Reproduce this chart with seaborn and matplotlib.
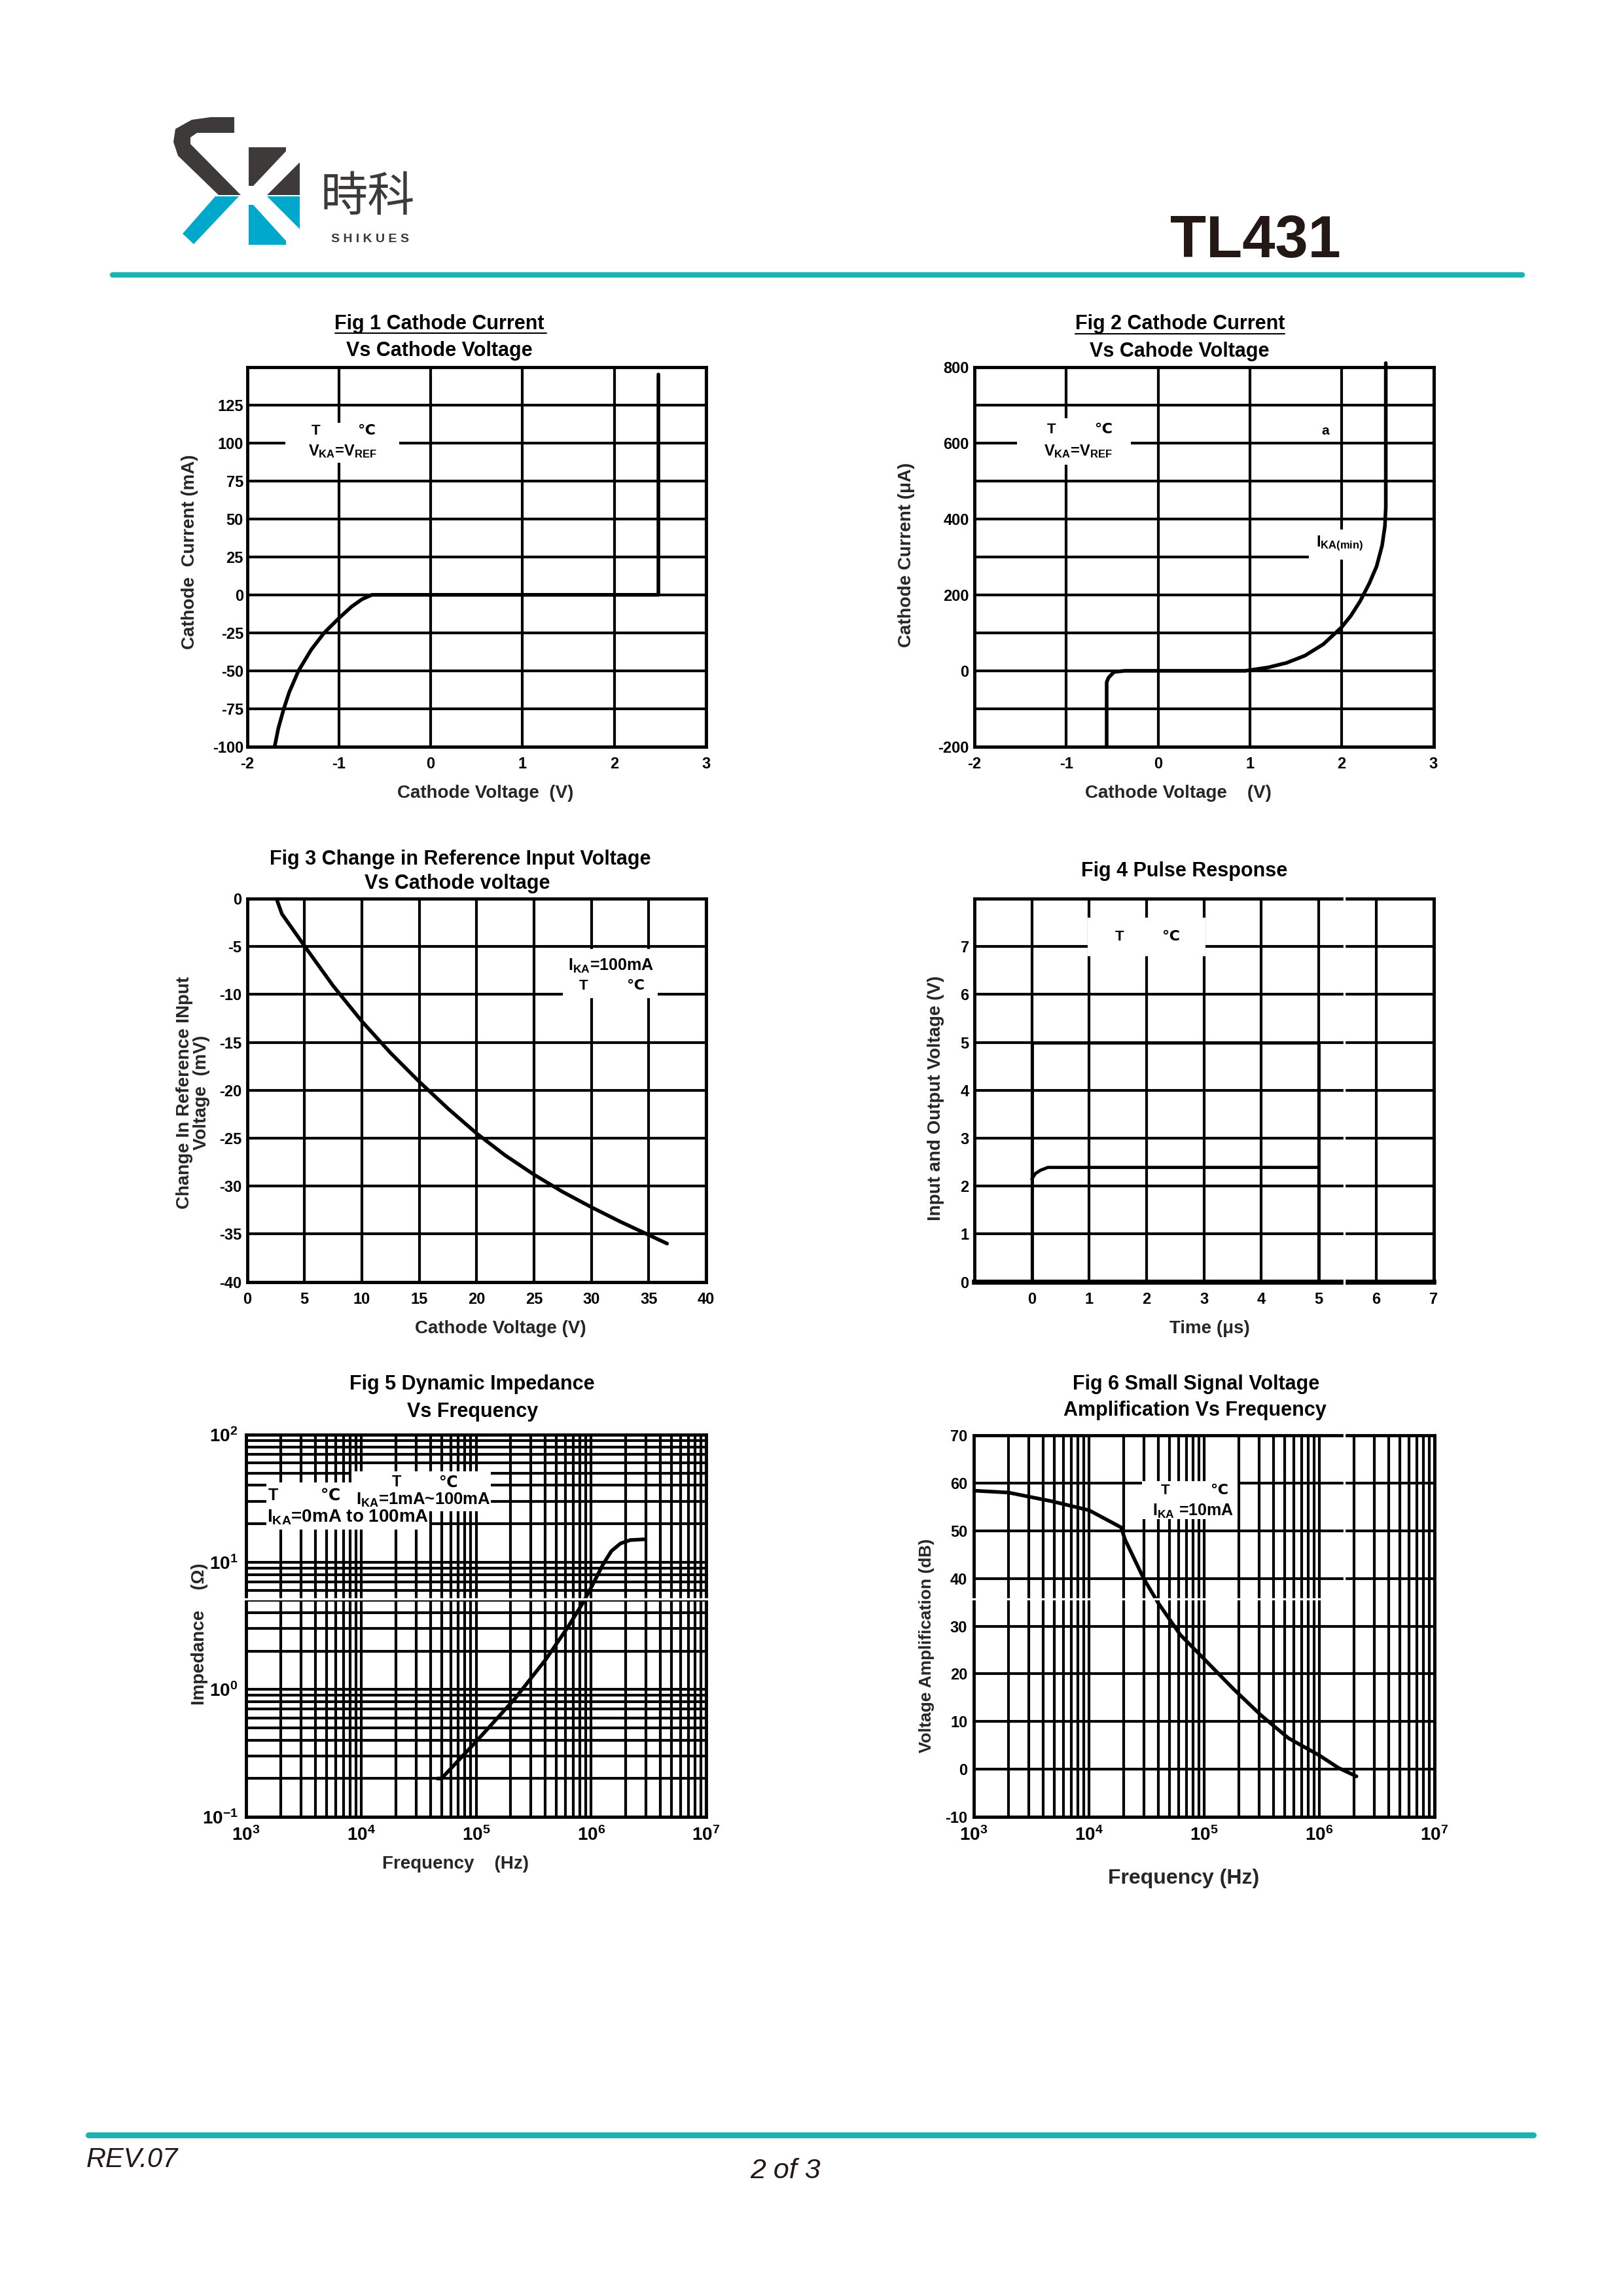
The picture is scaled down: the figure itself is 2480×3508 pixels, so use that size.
import matplotlib
matplotlib.use("Agg")
import matplotlib.pyplot as plt
import seaborn as sns
from matplotlib.patches import Rectangle, Polygon
from matplotlib.lines import Line2D
from matplotlib.ticker import LogLocator, NullFormatter, FixedLocator

# ---------------- DATA ----------------
# Fig 1  Cathode current (mA) vs cathode voltage (V)
fig1_voltage = [-1.70, -1.66, -1.60, -1.54, -1.44, -1.30, -1.16, -1.00, -0.86, -0.75, -0.64, 2.48, 2.48]
fig1_current = [-100, -88, -75, -64, -50, -36, -25, -15.4, -7.7, -3.0, 0, 0, 145]
fig1_xticks = [-2, -1, 0, 1, 2, 3]
fig1_yticks = [-100, -75, -50, -25, 0, 25, 50, 75, 100, 125]

# Fig 2  Cathode current (uA) vs cathode voltage (V)
fig2_voltage = [-0.56, -0.56, -0.54, -0.48, -0.36, 0.95, 1.20, 1.40, 1.60, 1.80, 2.00, 2.10, 2.20, 2.30, 2.38, 2.44, 2.47, 2.48, 2.48]
fig2_current = [-200, -30, -18, -3, 0, 0, 9, 21, 40, 70, 115, 145, 183, 230, 275, 330, 380, 430, 810]
fig2_xticks = [-2, -1, 0, 1, 2, 3]
fig2_yticks = [-200, -100, 0, 100, 200, 300, 400, 500, 600, 700, 800]
fig2_ylabels = ["-200", "", "0", "", "200", "", "400", "", "600", "", "800"]

# Fig 3  Change in reference input voltage (mV) vs cathode voltage (V)
fig3_voltage = [2.56, 3.04, 5.1, 7.5, 10, 12.5, 15, 17.5, 20, 22.5, 25, 27.5, 30, 32.5, 35, 36.6]
fig3_delta = [0, -1.6, -5.1, -9.1, -12.8, -16.1, -19.1, -21.9, -24.5, -26.8, -28.8, -30.6, -32.2, -33.7, -35.1, -36.0]
fig3_xticks = [0, 5, 10, 15, 20, 25, 30, 35, 40]
fig3_yticks = [0, -5, -10, -15, -20, -25, -30, -35, -40]

# Fig 4  Pulse response
fig4_time_in = [-1, 0, 0, 5, 5, 7]
fig4_v_in = [0, 0, 5, 5, 0, 0]
fig4_time_out = [0.0, 0.06, 0.15, 0.28, 5.0]
fig4_v_out = [2.15, 2.26, 2.33, 2.39, 2.39]
fig4_xticks = [0, 1, 2, 3, 4, 5, 6, 7]
fig4_yticks = [0, 1, 2, 3, 4, 5, 6, 7]

# Fig 5  Dynamic impedance (ohm) vs frequency (Hz)
fig5_freq = [4.6e4, 5.0e4, 1.0e5, 2.17e5, 4.05e5, 6.3e5, 8.5e5, 1.0e6, 1.27e6, 1.5e6, 1.8e6, 2.2e6, 2.97e6]
fig5_z = [0.2, 0.2, 0.39, 0.845, 1.73, 3.1, 4.8, 6.3, 9.6, 12.2, 14.0, 14.9, 15.1]
fig5_xticks = [1e3, 1e4, 1e5, 1e6, 1e7]
fig5_xlabels = [r"$10^{3}$", r"$10^{4}$", r"$10^{5}$", r"$10^{6}$", r"$10^{7}$"]
fig5_yticks = [0.1, 1, 10, 100]
fig5_ylabels = [r"$10^{-1}$", r"$10^{0}$", r"$10^{1}$", r"$10^{2}$"]

# Fig 6  Small signal voltage amplification (dB) vs frequency (Hz)
fig6_freq = [1e3, 2e3, 4.7e3, 1e4, 1.9e4, 2.06e4, 2.98e4, 3.98e4, 6.2e4, 1e5, 1.8e5, 3.12e5, 5.4e5, 1e6, 1.46e6, 2.1e6]
fig6_gain = [58.4, 58.0, 56.2, 54.3, 50.7, 48.1, 40.0, 34.9, 28.2, 23.1, 16.8, 11.3, 6.5, 2.9, 0.3, -1.5]
fig6_xticks = [1e3, 1e4, 1e5, 1e6, 1e7]
fig6_xlabels = [r"$10^{3}$", r"$10^{4}$", r"$10^{5}$", r"$10^{6}$", r"$10^{7}$"]
fig6_yticks = [-10, 0, 10, 20, 30, 40, 50, 60, 70]

# ---------------- STYLE ----------------
sns.set_theme(style="white")
plt.rcParams["font.family"] = ["Liberation Sans", "DejaVu Sans", "Noto Sans CJK SC"]
plt.rcParams["font.weight"] = "bold"
plt.rcParams["mathtext.fontset"] = "custom"
plt.rcParams["mathtext.rm"] = "Liberation Sans"
plt.rcParams["mathtext.bf"] = "Liberation Sans:bold"
plt.rcParams["mathtext.it"] = "Liberation Sans:italic"
plt.rcParams["mathtext.default"] = "bf"
plt.rcParams["text.color"] = "black"
plt.rcParams["xtick.color"] = "black"
plt.rcParams["ytick.color"] = "black"

W, H = 2480, 3508
fig = plt.figure(figsize=(W / 100, H / 100), dpi=100)
fig.patch.set_facecolor("white")

GRID_LW = 3.0
SPINE_LW = 3.5
CURVE_LW = 4.0
TICK_FS = 17
LAB_FS = 20
TITLE_FS = 22


def add_ax(box):
    x0, y0, x1, y1 = box
    return fig.add_axes([x0 / W, 1 - y1 / H, (x1 - x0) / W, (y1 - y0) / H])


def frame(ax, xpad=11, ypad=5):
    ax.set_facecolor("white")
    for s in ax.spines.values():
        s.set_visible(True)
        s.set_color("black")
        s.set_linewidth(SPINE_LW)
    ax.set_axisbelow(True)
    ax.grid(True, which="major", color="black", linewidth=GRID_LW)
    ax.tick_params(axis="both", which="both", length=0, labelsize=TICK_FS)
    ax.tick_params(axis="x", pad=xpad)
    ax.tick_params(axis="y", pad=ypad)


def labels(ax, box, xl, xpos, yl, ypos, fs=LAB_FS, xfs=None):
    x0, y0, x1, y1 = box
    ax.set_xlabel(xl, fontsize=xfs or fs, fontweight="bold")
    ax.xaxis.set_label_coords((xpos[0] - x0) / (x1 - x0), 1 - (xpos[1] - y0) / (y1 - y0))
    ax.xaxis.label.set_va("center")
    ax.xaxis.label.set_ha("center")
    ax.set_ylabel(yl, fontsize=fs, fontweight="bold", rotation=90)
    ax.yaxis.set_label_coords((ypos[0] - x0) / (x1 - x0), 1 - (ypos[1] - y0) / (y1 - y0))
    ax.yaxis.label.set_va("center")
    ax.yaxis.label.set_ha("center")


def whitebox(ax, xa, xb, ya, yb):
    ax.add_patch(Rectangle((xa, ya), xb - xa, yb - ya, facecolor="white",
                           edgecolor="none", zorder=1))


def note(ax, x, y, s, fs=16):
    ax.text(x, y, s, ha="center", va="center", fontsize=fs, fontweight="bold", zorder=4)


# ---------------- FIG 1 ----------------
box1 = (377.5, 560.5, 1079, 1141)
ax1 = add_ax(box1)
sns.lineplot(x=fig1_voltage, y=fig1_current, ax=ax1, color="black", linewidth=CURVE_LW,
             sort=False, estimator=None)
ax1.set_xlim(-2, 3)
ax1.set_ylim(-100, 150)
ax1.set_xticks(fig1_xticks)
ax1.set_xticklabels([str(v) for v in fig1_xticks])
ax1.set_yticks(fig1_yticks)
ax1.set_yticklabels([str(v) for v in fig1_yticks])
frame(ax1, xpad=11, ypad=4)
labels(ax1, box1, "Cathode Voltage  (V)", (742, 1212), "Cathode  Current (mA)", (290, 843))
whitebox(ax1, -1.58, -0.34, 86.7, 113.1)
note(ax1, -1.25, 107.6, "T")
note(ax1, -0.70, 107.6, "℃")
note(ax1, -0.96, 94.4, r"V$_{KA}$=V$_{REF}$", fs=17)

# ---------------- FIG 2 ----------------
box2 = (1489, 560.5, 2190.5, 1141)
ax2 = add_ax(box2)
sns.lineplot(x=fig2_voltage, y=fig2_current, ax=ax2, color="black", linewidth=CURVE_LW,
             sort=False, estimator=None)
for ln in ax2.lines:
    ln.set_clip_on(False)
ax2.set_xlim(-2, 3)
ax2.set_ylim(-200, 800)
ax2.set_xticks(fig2_xticks)
ax2.set_xticklabels([str(v) for v in fig2_xticks])
ax2.set_yticks(fig2_yticks)
ax2.set_yticklabels(fig2_ylabels)
frame(ax2, xpad=11, ypad=6)
labels(ax2, box2, "Cathode Voltage    (V)", (1800, 1212), "Cathode Current (μA)", (1385, 848))
whitebox(ax2, -1.54, -0.30, 542.5, 665.6)
note(ax2, -1.16, 634.8, "T")
note(ax2, -0.60, 634.8, "℃")
note(ax2, -0.87, 577.7, r"V$_{KA}$=V$_{REF}$", fs=17)
note(ax2, 1.82, 632, "a", fs=15)
whitebox(ax2, 1.64, 2.99, 293, 372)
note(ax2, 1.98, 336, r"I$_{KA(min)}$", fs=17)

# ---------------- FIG 3 ----------------
box3 = (377.5, 1373, 1079, 1958.6)
ax3 = add_ax(box3)
sns.lineplot(x=fig3_voltage, y=fig3_delta, ax=ax3, color="black", linewidth=CURVE_LW,
             sort=False, estimator=None)
ax3.set_xlim(0, 40)
ax3.set_ylim(-40, 0)
ax3.set_xticks(fig3_xticks)
ax3.set_xticklabels([str(v) for v in fig3_xticks])
ax3.set_yticks(fig3_yticks)
ax3.set_yticklabels([str(v) for v in fig3_yticks])
frame(ax3, xpad=11, ypad=6)
labels(ax3, box3, "Cathode Voltage (V)", (765, 2030),
       "Change In Reference INput\nVoltage  (mV)", (295, 1669))
ax3.yaxis.label.set_linespacing(1.0)
whitebox(ax3, 27.5, 35.8, -10.35, -5.25)
note(ax3, 31.7, -7.0, r"I$_{KA}$=100mA", fs=18)
note(ax3, 29.3, -9.1, "T")
note(ax3, 33.8, -9.1, "℃")

# ---------------- FIG 4 ----------------
box4 = (1489, 1373, 2190.5, 1958.6)
ax4 = add_ax(box4)
sns.lineplot(x=fig4_time_in, y=fig4_v_in, ax=ax4, color="black", linewidth=3.5,
             sort=False, estimator=None)
sns.lineplot(x=fig4_time_out, y=fig4_v_out, ax=ax4, color="black", linewidth=3.5,
             sort=False, estimator=None)
ax4.set_xlim(-1, 7)
ax4.set_ylim(0, 8)
ax4.set_xticks(fig4_xticks)
ax4.set_xticklabels([str(v) for v in fig4_xticks])
ax4.set_yticks(fig4_yticks)
ax4.set_yticklabels([str(v) for v in fig4_yticks])
frame(ax4, xpad=11, ypad=6)
ax4.spines["bottom"].set_linewidth(5.5)
labels(ax4, box4, "Time (μs)", (1848, 2030), "Input and Output Voltage (V)", (1430, 1678))
whitebox(ax4, 0.97, 3.03, 6.8, 7.6)
note(ax4, 1.53, 7.2, "T")
note(ax4, 2.42, 7.2, "℃")

# ---------------- FIG 5 ----------------
box5 = (376, 2192, 1079, 2776)
ax5 = add_ax(box5)
sns.lineplot(x=fig5_freq, y=fig5_z, ax=ax5, color="black", linewidth=CURVE_LW,
             sort=False, estimator=None)
ax5.set_xscale("log")
ax5.set_yscale("log")
ax5.set_xlim(1e3, 1e7)
ax5.set_ylim(0.1, 100)
ax5.xaxis.set_major_locator(FixedLocator(fig5_xticks))
ax5.set_xticklabels(fig5_xlabels)
ax5.yaxis.set_major_locator(FixedLocator(fig5_yticks))
ax5.set_yticklabels(fig5_ylabels)
ax5.xaxis.set_minor_locator(LogLocator(base=10, subs=range(2, 10), numticks=20))
ax5.yaxis.set_minor_locator(LogLocator(base=10, subs=range(2, 10), numticks=20))
ax5.xaxis.set_minor_formatter(NullFormatter())
ax5.yaxis.set_minor_formatter(NullFormatter())
frame(ax5, xpad=10, ypad=9)
ax5.grid(True, which="minor", color="black", linewidth=GRID_LW)
ax5.tick_params(axis="both", which="major", labelsize=20)
labels(ax5, box5, "Frequency    (Hz)", (696, 2848), "Impedance    (Ω)", (305, 2497))
whitebox(ax5, 1.5e3, 9.5e3, 18.1, 42.2)
whitebox(ax5, 8.2e3, 3.9e4, 18.1, 51.5)
whitebox(ax5, 3.9e4, 1.35e5, 25.0, 51.5)
note(ax5, 1.71e3, 33.3, "T", fs=18)
note(ax5, 5.42e3, 33.3, "℃", fs=18)
note(ax5, 7.69e3, 22.5, r"I$_{KA}$=0mA to 100mA", fs=20)
note(ax5, 2.04e4, 42.2, "T", fs=17)
note(ax5, 5.73e4, 42.2, "℃", fs=17)
note(ax5, 3.5e4, 30.8, r"I$_{KA}$=1mA~100mA", fs=18.5)

# ---------------- FIG 6 ----------------
box6 = (1488, 2193, 2192, 2776)
ax6 = add_ax(box6)
sns.lineplot(x=fig6_freq, y=fig6_gain, ax=ax6, color="black", linewidth=CURVE_LW,
             sort=False, estimator=None)
ax6.set_xscale("log")
ax6.set_xlim(1e3, 1e7)
ax6.set_ylim(-10, 70)
ax6.xaxis.set_major_locator(FixedLocator(fig6_xticks))
ax6.set_xticklabels(fig6_xlabels)
ax6.xaxis.set_minor_locator(LogLocator(base=10, subs=range(2, 10), numticks=20))
ax6.xaxis.set_minor_formatter(NullFormatter())
ax6.set_yticks(fig6_yticks)
ax6.set_yticklabels([str(v) for v in fig6_yticks])
frame(ax6, xpad=10, ypad=7)
ax6.xaxis.grid(True, which="minor", color="black", linewidth=GRID_LW)
ax6.tick_params(axis="x", which="major", labelsize=20)
labels(ax6, box6, "Frequency (Hz)", (1809, 2870), "Voltage Amplification (dB)", (1416, 2514),
       fs=19, xfs=23)
whitebox(ax6, 2.87e4, 1.94e5, 52.5, 60.4)
note(ax6, 4.6e4, 58.4, "T")
note(ax6, 1.34e5, 58.4, "℃")
note(ax6, 8.0e4, 54.1, r"I$_{KA}$ =10mA", fs=18)

# ---------------- PAGE OVERLAY (header, titles, footer) ----------------
pg = fig.add_axes([0, 0, 1, 1], zorder=10)
pg.set_xlim(0, W)
pg.set_ylim(H, 0)
pg.axis("off")
pg.patch.set_alpha(0)

dark = "#3e3a39"
cyan = "#00a9cc"
teal = "#1cb3b3"
logo_dark = [
    [(322, 179), (358, 179), (358, 203), (301, 203), (291, 210), (291, 220), (368, 298),
     (334, 298), (272, 238), (265, 217), (268, 197), (293, 183)],
    [(380, 225), (437, 225), (437, 231), (387, 284), (380, 284)],
    [(458, 248), (458, 298), (408, 298)],
]
logo_cyan = [
    [(329, 300), (365, 300), (296, 373), (279, 357)],
    [(380, 313), (387, 313), (437, 368), (437, 374), (380, 374)],
    [(408, 300), (458, 300), (458, 350)],
]
for p in logo_dark:
    pg.add_patch(Polygon(p, closed=True, facecolor=dark, edgecolor="none"))
for p in logo_cyan:
    pg.add_patch(Polygon(p, closed=True, facecolor=cyan, edgecolor="none"))
pg.text(562, 301, "時科", ha="center", va="center", fontsize=52, color=dark,
        family=["Noto Sans CJK SC"], fontweight="normal")
pg.text(565, 365, "S H I K U E S", ha="center", va="center", fontsize=14, color=dark,
        fontweight="bold")
pg.text(1918, 369, "TL431", ha="center", va="center", fontsize=65, color="#231815",
        fontweight="bold")
pg.add_line(Line2D([172, 2326], [420, 420], color=teal, linewidth=6, solid_capstyle="round"))

# footer
pg.add_line(Line2D([135, 2343], [3262, 3262], color=teal, linewidth=6.5, solid_capstyle="round"))
pg.text(132, 3300, "REV.07", ha="left", va="center", fontsize=30, fontstyle="italic",
        fontweight="normal", color="#231815")
pg.text(1200, 3317, "2 of 3", ha="center", va="center", fontsize=31, fontstyle="italic",
        fontweight="normal", color="#231815")

# chart titles
titles = [
    (671, 495, "Fig 1 Cathode Current"), (671, 536, "Vs Cathode Voltage"),
    (1803, 495, "Fig 2 Cathode Current"), (1802, 537, "Vs Cahode Voltage"),
    (703, 1313, "Fig 3 Change in Reference Input Voltage"), (699, 1350, "Vs Cathode voltage"),
    (1810, 1331, "Fig 4 Pulse Response"),
    (721, 2115, "Fig 5 Dynamic Impedance"), (722, 2157, "Vs Frequency"),
    (1828, 2115, "Fig 6 Small Signal Voltage"), (1826, 2155, "Amplification Vs Frequency"),
]
for x, y, s in titles:
    pg.text(x, y, s, ha="center", va="center", fontsize=TITLE_FS, fontweight="bold")
# underlines of Fig 1 / Fig 2 first title lines
pg.add_line(Line2D([512, 835], [509, 509], color="black", linewidth=1.5))
pg.add_line(Line2D([1643, 1963], [510, 510], color="black", linewidth=1.5))

# white scan gaps across the grids
pg.add_line(Line2D([2054, 2054], [1368, 1964], color="white", linewidth=2.4))
pg.add_line(Line2D([2054, 2054], [2187, 2443], color="white", linewidth=2.4))
pg.add_line(Line2D([370, 1085], [2443, 2443], color="white", linewidth=2.4))
pg.add_line(Line2D([1482, 2017], [2443, 2443], color="white", linewidth=2.4))

fig.savefig("out.png", dpi=100)
